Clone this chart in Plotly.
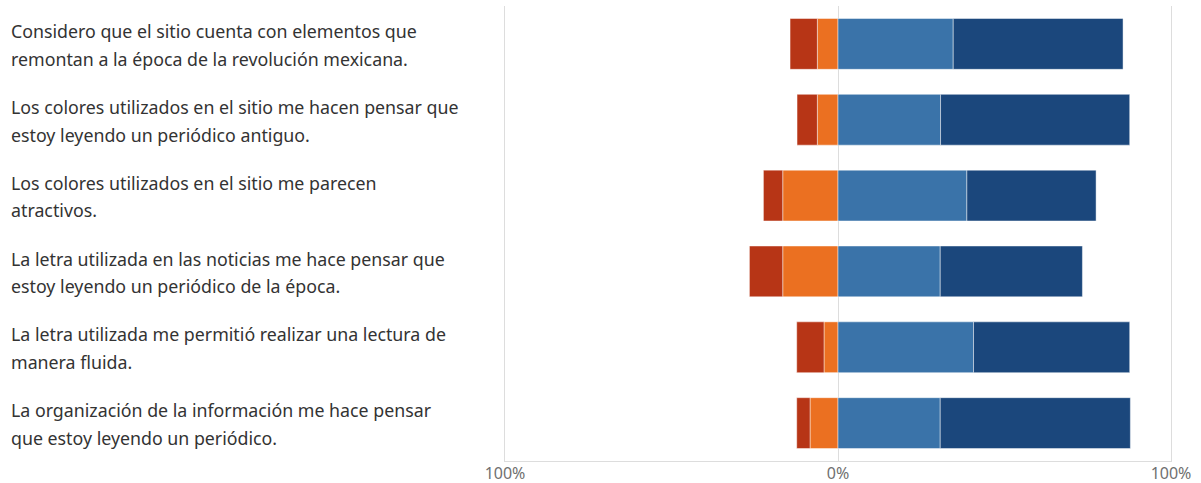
import plotly.graph_objects as go

categories = [
    "Considero que el sitio cuenta con elementos que|remontan a la época de la revolución mexicana.",
    "Los colores utilizados en el sitio me hacen pensar que|estoy leyendo un periódico antiguo.",
    "Los colores utilizados en el sitio me parecen|atractivos.",
    "La letra utilizada en las noticias me hace pensar que|estoy leyendo un periódico de la época.",
    "La letra utilizada me permitió realizar una lectura de|manera fluida.",
    "La organización de la información me hace pensar|que estoy leyendo un periódico.",
]
# percentages per response level
muy_desacuerdo = [8.2, 6.1, 5.8, 10.0, 8.2, 4.0]
desacuerdo = [6.2, 6.2, 16.6, 16.6, 4.2, 8.4]
de_acuerdo = [34.6, 30.8, 38.7, 30.7, 40.7, 30.7]
muy_de_acuerdo = [51.0, 56.8, 38.8, 42.7, 46.9, 57.1]

tick_vals = [-100, 0, 100]
tick_text = ["100%", "0%", "100%"]

series = [
    ("En desacuerdo", [-v for v in desacuerdo], "#EB7021"),
    ("Muy en desacuerdo", [-v for v in muy_desacuerdo], "#B73516"),
    ("De acuerdo", de_acuerdo, "#3A73A9"),
    ("Muy de acuerdo", muy_de_acuerdo, "#1B477C"),
]

fig = go.Figure()
for name, vals, color in series:
    fig.add_trace(go.Bar(
        y=categories, x=vals, orientation="h", name=name,
        marker=dict(color=color, line=dict(color="rgba(255,255,255,0.45)", width=1)),
        width=0.67,
    ))

annotations = []
for cat in categories:
    lines = cat.split("|")
    n = len(lines)
    for i, ln in enumerate(lines):
        shift = (n - 1) / 2 * 27.6 - i * 27.6 - 1
        annotations.append(dict(
            x=0, xref="paper", xshift=-496, y=cat, yref="y", yshift=shift,
            text=ln, showarrow=False, xanchor="left", yanchor="middle",
            font=dict(family="Noto Sans", size=17.8, color="#333333"),
        ))

fig.update_layout(
    width=1201, height=483,
    margin=dict(l=505, r=30, t=6, b=22, autoexpand=False),
    barmode="relative",
    showlegend=False,
    plot_bgcolor="white", paper_bgcolor="white",
    annotations=annotations,
    xaxis=dict(
        range=[-100, 100], tickvals=tick_vals, ticktext=tick_text,
        showgrid=True, gridcolor="#dddddd", gridwidth=1, zeroline=False,
        showline=True, linecolor="#dddddd", linewidth=1,
        tickfont=dict(family="Noto Sans", size=16, color="#707070"),
        ticks="", fixedrange=True, automargin=False, ticklabelstandoff=-2,
    ),
    yaxis=dict(
        autorange="reversed", showticklabels=False, showgrid=False,
        showline=True, linecolor="#dddddd", mirror=True, zeroline=False,
        range=[5.5, -0.5], automargin=False, fixedrange=True,
    ),
)

fig.write_html("out.html", config={"displayModeBar": False},
               post_script="document.body.style.margin='0';")
